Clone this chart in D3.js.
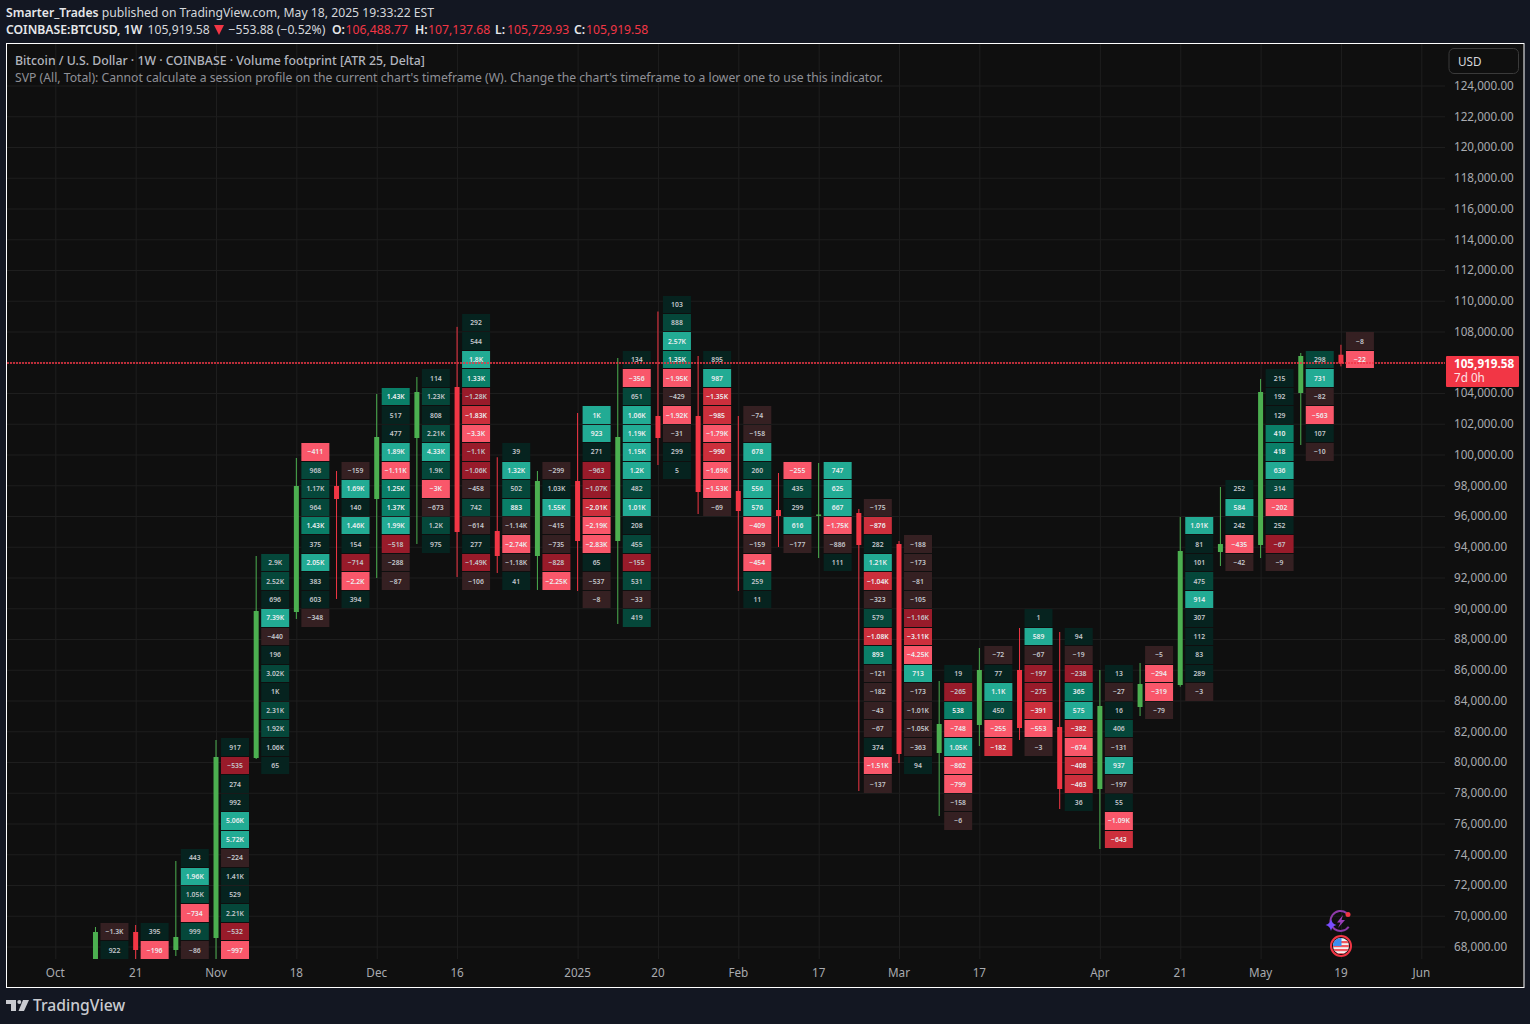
<!DOCTYPE html>
<html>
<head>
<meta charset="utf-8">
<script src="https://cdn.jsdelivr.net/npm/d3@7"></script>
<style>
html,body{margin:0;padding:0;background:#131722;overflow:hidden}
svg{display:block}
text{font-family:"Noto Sans","Open Sans",sans-serif}
</style>
</head>
<body>
<svg id="chart" width="1530" height="1024"></svg>
<script>
// ---------- data ----------
const firstWeek = "2024-10-14";
const opens  = [62851,68943,67772,68553,80260,89756,97951,97106,101073,104390,95024,93398,98276,94374,102504,102504,97626,96390,96000,96195,94179,80585,82407,85984,82276,78244,83577,85008,93658,94114,104000,106488.77];
const highs  = [69268,69398,73561,81431,93398,99772,98926,103935,105041,108300,99821,98926,102699,106276,109300,106407,102504,98796,99447,96455,94374,85268,87415,88715,88455,85984,86439,95935,97886,104910,106601,107137.68];
const lows   = [62500,65500,67382,66500,80195,89301,90602,91967,94179,92033,92293,91187,91122,88976,99317,96130,91122,93984,93268,78114,79935,76488,81041,81431,76943,74341,82992,84900,92748,93268,100618,105729.93];
const closes = [68943,67772,68618,80325,89821,97951,97106,101138,104065,94960,93398,98276,94374,101138,101073,97561,96325,96000,96100,94114,80520,82472,85984,82211,78244,83642,85073,93723,94179,104065,106407,105919.58];
const binSize = 1200;
const lowestBin = [67200,67200,67200,67200,79200,88800,90000,91200,93600,91200,91200,91200,90000,88800,98400,96000,90000,93600,92400,78000,79200,75600,80400,80400,76800,74400,82800,84000,92400,92400,99600,105600];
const deltaLabels = [
  ["-1.3K","922"],
  ["395","-196"],
  ["443","1.96K","1.05K","-734","999","-86"],
  ["917","-535","274","992","5.06K","5.72K","-224","1.41K","529","2.21K","-532","-997"],
  ["2.9K","2.52K","696","7.39K","-440","196","3.02K","1K","2.31K","1.92K","1.06K","65"],
  ["-411","968","1.17K","964","1.43K","375","2.05K","383","603","-348"],
  ["-159","1.69K","140","1.46K","154","-714","-2.2K","394"],
  ["1.43K","517","477","1.89K","-1.11K","1.25K","1.37K","1.99K","-518","-288","-87"],
  ["114","1.23K","808","2.21K","4.33K","1.9K","-3K","-673","1.2K","975"],
  ["292","544","1.8K","1.33K","-1.28K","-1.83K","-3.3K","-1.1K","-1.06K","-458","742","-614","277","-1.49K","-106"],
  ["39","1.32K","502","883","-1.14K","-2.74K","-1.18K","41"],
  ["-299","1.03K","1.55K","-415","-735","-828","-2.25K"],
  ["1K","923","271","-963","-1.07K","-2.01K","-2.19K","-2.83K","65","-537","-8"],
  ["134","-356","651","1.06K","1.19K","1.15K","1.2K","482","1.01K","208","455","-155","531","-33","419"],
  ["103","888","2.57K","1.35K","-1.95K","-429","-1.92K","-31","299","5"],
  ["895","987","-1.35K","-985","-1.79K","-990","-1.69K","-1.53K","-69"],
  ["-74","-158","678","260","556","576","-409","-159","-454","259","11"],
  ["-255","435","299","616","-177"],
  ["747","625","667","-1.75K","-886","111"],
  ["-175","-876","282","1.21K","-1.04K","-323","579","-1.08K","893","-121","-182","-43","-67","374","-1.51K","-137"],
  ["-188","-173","-81","-105","-1.16K","-3.11K","-4.25K","713","-173","-1.01K","-1.05K","-363","94"],
  ["19","-265","538","-748","1.05K","-862","-799","-158","-6"],
  ["-72","77","1.1K","450","-255","-182"],
  ["1","589","-67","-197","-275","-391","-553","-3"],
  ["94","-19","-238","365","575","-382","-674","-408","-463","36"],
  ["13","-27","16","406","-131","937","-197","55","-1.09K","-643"],
  ["-5","-294","-319","-79"],
  ["1.01K","81","101","475","914","307","112","83","289","-3"],
  ["252","584","242","-435","-42"],
  ["215","192","129","410","418","636","314","-202","252","-67","-9"],
  ["298","731","-82","-563","107","-10"],
  ["-8","-22"]
];
const deltaStrength = [
  [0,0],
  [0,3],
  [0,3,1,3,1,0],
  [0,1,0,0,3,3,0,0,0,1,1,3],
  [1,1,0,3,0,0,1,0,1,1,0,0],
  [3,1,1,1,2,0,3,0,0,0],
  [0,3,0,3,0,1,3,0],
  [2,0,0,3,3,2,2,3,1,0,0],
  [0,1,0,1,3,1,3,0,1,0],
  [0,0,3,2,1,2,3,1,1,0,1,0,0,1,0],
  [0,3,1,2,0,3,0,0],
  [0,0,3,0,0,1,3],
  [3,3,0,1,1,2,3,3,0,0,0],
  [0,3,1,3,3,3,3,1,3,0,1,1,1,0,1],
  [0,1,3,2,3,0,3,0,0,0],
  [0,3,2,2,3,2,3,3,0],
  [0,0,3,1,3,3,3,0,3,1,0],
  [3,1,0,3,0],
  [3,3,3,3,0,0],
  [0,2,0,3,2,0,1,2,2,0,0,0,0,0,3,0],
  [0,0,0,0,1,2,3,3,0,0,0,0,0],
  [0,1,2,3,3,3,3,0,0],
  [0,0,3,1,3,2],
  [0,3,0,1,1,2,3,0],
  [0,0,1,2,3,2,3,2,2,0],
  [0,0,0,1,0,3,0,0,3,2],
  [0,3,3,0],
  [3,0,0,1,3,0,0,0,0,0],
  [0,3,0,3,0],
  [0,0,0,2,2,3,1,3,0,1,0],
  [1,3,0,3,0,0],
  [0,3]
];
const priceTicks = d3.range(68000, 124001, 2000);
const timeTickDates  = ["2024-10-07","2024-10-21","2024-11-04","2024-11-18","2024-12-02","2024-12-16","2025-01-06","2025-01-20","2025-02-03","2025-02-17","2025-03-03","2025-03-17","2025-04-07","2025-04-21","2025-05-05","2025-05-19","2025-06-02"];
const timeTickLabels = ["Oct","21","Nov","18","Dec","16","2025","20","Feb","17","Mar","17","Apr","21","May","19","Jun"];
const lastPrice = 105919.58;

// ---------- layout / palette ----------
const pageBg="#131722", paneBg="#0f0f0f", grid="#1e1e1e", axisText="#a9abb0";
const upCol="#4caf50", downCol="#f23645";
const posShades=["#06231f","#05473a","#0a7f68","#22ab94"];
const negShades=["#352022","#981b2a","#cc2f3c","#f9576a"];
const L=7,R=1445,T=44,B=959;
const svg=d3.select("#chart");
svg.append("rect").attr("width",1530).attr("height",1024).attr("fill",pageBg);
svg.append("rect").attr("x",6.5).attr("y",43.5).attr("width",1517.5).attr("height",944)
   .attr("fill",paneBg).attr("stroke","#ffffff").attr("stroke-width",1);

const x=d3.scaleUtc().domain([new Date("2024-10-07"),new Date("2025-06-02")]).range([54.8,1420.8]);
const y=d3.scaleLinear().domain([68000,124000]).range([946.5,85.5]);

const defs=svg.append("defs");
defs.append("clipPath").attr("id","plot").append("rect").attr("x",L).attr("y",T).attr("width",R-L).attr("height",B-T);

// grid + axes
const tDates=timeTickDates.map(d=>new Date(d));
const xGrid=svg.append("g").attr("transform",`translate(0.5,${B})`)
  .call(d3.axisBottom(x).tickValues(tDates).tickSize(-(B-T)).tickFormat(""));
xGrid.select(".domain").remove();
xGrid.selectAll("line").attr("stroke",grid);
const yGrid=svg.append("g").attr("transform",`translate(${R},0)`)
  .call(d3.axisLeft(y).tickValues(priceTicks).tickSize(R-L).tickFormat(""));
yGrid.select(".domain").remove();
yGrid.selectAll("line").attr("stroke",grid);

const xAxis=svg.append("g").attr("transform",`translate(0,${B})`)
  .call(d3.axisBottom(x).tickValues(tDates).tickSize(0).tickPadding(10)
    .tickFormat((d,i)=>timeTickLabels[i]));
xAxis.select(".domain").remove();
xAxis.selectAll("text").attr("fill",axisText).attr("font-size",11.7).attr("font-family",'"Noto Sans"');
const yAxis=svg.append("g").attr("transform",`translate(1454,0)`)
  .call(d3.axisRight(y).tickValues(priceTicks).tickSize(0).tickPadding(0)
    .tickFormat(d=>d3.format(",.2f")(d)));
yAxis.select(".domain").remove();
yAxis.selectAll("text").attr("fill",axisText).attr("font-size",11.7).attr("font-family",'"Noto Sans"');

const plot=svg.append("g").attr("clip-path","url(#plot)");
const weekDate=i=>d3.utcWeek.offset(new Date(firstWeek),i);
const rows=opens.map((o,i)=>({i,o,h:highs[i],l:lows[i],c:closes[i],t:weekDate(i),
  cells:deltaLabels[i].map((lab,j)=>({lab,s:deltaStrength[i][j],top:lowestBin[i]+binSize*(deltaLabels[i].length-j)}))}));

// footprint cells
const col=plot.selectAll("g.fp").data(rows).join("g").attr("class","fp")
  .attr("transform",d=>`translate(${x(d.t)+0.5},0)`);
const cell=col.selectAll("g").data(d=>d.cells).join("g");
const neg=d=>d.lab.startsWith("-");
cell.append("rect")
  .attr("x",5).attr("width",28)
  .attr("y",d=>Math.round(y(d.top))+1)
  .attr("height",d=>Math.round(y(d.top-binSize))-Math.round(y(d.top))-1)
  .attr("fill",d=>(neg(d)?negShades:posShades)[d.s]);
cell.append("text")
  .attr("x",19).attr("text-anchor","middle").attr("font-size",6.8).attr("font-weight",600)
  .attr("y",d=>(y(d.top)+y(d.top-binSize))/2+3)
  .attr("fill",d=>d.s>=2?"#eceef0":"#c4c6cb")
  .text(d=>d.lab.replace("-","\u2212"));

// candles
const cndl=col.append("g");
const cc=d=>d.c>=d.o?upCol:downCol;
cndl.append("line").attr("x1",0).attr("x2",0).attr("y1",d=>y(d.h)).attr("y2",d=>y(d.l))
  .attr("stroke",cc).attr("stroke-width",1);
cndl.append("rect").attr("x",-2.5).attr("width",5)
  .attr("y",d=>y(Math.max(d.o,d.c))).attr("height",d=>Math.max(1,Math.abs(y(d.o)-y(d.c))))
  .attr("fill",cc);

// last price line
const lastY=Math.round(y(lastPrice));
svg.append("line").attr("x1",L).attr("x2",R).attr("y1",lastY).attr("y2",lastY)
  .attr("stroke",downCol).attr("stroke-dasharray","2 1").attr("stroke-width",1.4);

// price label
svg.append("rect").attr("x",1446).attr("y",356).attr("width",73).attr("height",31).attr("rx",1).attr("fill",downCol);
svg.append("text").attr("x",1454).attr("y",368).attr("fill","#fff").attr("font-size",11.7).attr("font-weight",700).text(d3.format(",.2f")(lastPrice));
svg.append("text").attr("x",1454).attr("y",382).attr("fill","#fde3e5").attr("font-size",11.7).text("7d 0h");

// currency button
svg.append("rect").attr("x",1449).attr("y",48.5).attr("width",69.5).attr("height",25).attr("rx",5)
  .attr("fill","#0f0f0f").attr("stroke","#3a3a3a");
svg.append("text").attr("x",1458).attr("y",66).attr("fill","#d6d8dd").attr("font-size",11.7).text("USD");

// header
const head=svg.append("g").attr("font-size",12.2);
const h1=head.append("text").attr("x",6).attr("y",17).attr("fill","#d5d7dc");
h1.append("tspan").attr("font-weight",600).attr("fill","#e6e7ea").text("Smarter_Trades");
h1.append("tspan").text(" published on TradingView.com, May 18, 2025 19:33:22 EST");
const headerBits=[
  [6,"COINBASE:BTCUSD, 1W","#e6e7ea",600],
  [147.5,"105,919.58","#d5d7dc",400],
  [228.5,"\u2212553.88 (\u22120.52%)","#d5d7dc",400],
  [332,"O:","#e6e7ea",600],[345.6,"106,488.77",downCol,400],
  [415,"H:","#e6e7ea",600],[428,"107,137.68",downCol,400],
  [495,"L:","#e6e7ea",600],[507,"105,729.93",downCol,400],
  [574,"C:","#e6e7ea",600],[586,"105,919.58",downCol,400]
];
head.selectAll("text.h2").data(headerBits).join("text").attr("class","h2")
  .attr("x",d=>d[0]).attr("y",34).attr("fill",d=>d[2]).attr("font-weight",d=>d[3]).text(d=>d[1]);
svg.append("path").attr("d","M214 25 H224 L219 35 Z").attr("fill",downCol);

svg.append("text").attr("x",15).attr("y",65).attr("font-size",12.3).attr("font-weight",500).attr("fill","#b2b5be")
  .text("Bitcoin / U.S. Dollar \u00B7 1W \u00B7 COINBASE \u00B7 Volume footprint [ATR 25, Delta]");
svg.append("text").attr("x",15).attr("y",82).attr("font-size",12.2).attr("fill","#8f9197")
  .text("SVP (All, Total): Cannot calculate a session profile on the current chart's timeframe (W). Change the chart's timeframe to a lower one to use this indicator.");

// event icons
const ic=svg.append("g");
ic.append("path").attr("d","M1350.5 921 A10 10 0 1 1 1341 911").attr("fill","none").attr("stroke","#8e3aa8").attr("stroke-width",2)
  .attr("transform","rotate(35 1340.5 921)");
ic.append("path").attr("d","M1343 915 L1337 922.5 L1340.5 922.5 L1338 928 L1345 920 L1341.5 920 Z").attr("fill","#9c3fbb");
ic.append("path").attr("d","M1331 919 Q1332 924 1336.5 925 Q1332 926 1331 931 Q1330 926 1325.5 925 Q1330 924 1331 919 Z").attr("fill","#7a4dff");
ic.append("circle").attr("cx",1348).attr("cy",914.5).attr("r",2.5).attr("fill","#f23645");
ic.append("circle").attr("cx",1341).attr("cy",946).attr("r",10).attr("fill","#0f0f0f").attr("stroke","#f23645").attr("stroke-width",2);
defs.append("clipPath").attr("id","flag").append("circle").attr("cx",1341).attr("cy",946).attr("r",8);
const fl=ic.append("g").attr("clip-path","url(#flag)");
fl.append("rect").attr("x",1333).attr("y",938).attr("width",16).attr("height",16).attr("fill","#f2f2f2");
[941,945,949,953].forEach(v=>fl.append("rect").attr("x",1333).attr("y",v).attr("width",16).attr("height",2.2).attr("fill","#f0565f"));
fl.append("rect").attr("x",1333).attr("y",938).attr("width",8.5).attr("height",8).attr("fill","#3b8df0");

// logo
const lg=svg.append("g").attr("fill","#c9cbd0");
lg.append("path").attr("d","M6 1000 H16 V1011 H11 V1004 H6 Z");
lg.append("circle").attr("cx",19.3).attr("cy",1002).attr("r",2);
lg.append("path").attr("d","M23 1000 H29 L24 1011 H18.5 Z");
svg.append("text").attr("x",33).attr("y",1011).attr("font-size",15.7).attr("font-weight",500).attr("font-family",'Inter,"Noto Sans"').attr("fill","#c9cbd0").text("TradingView");
</script>
</body>
</html>
